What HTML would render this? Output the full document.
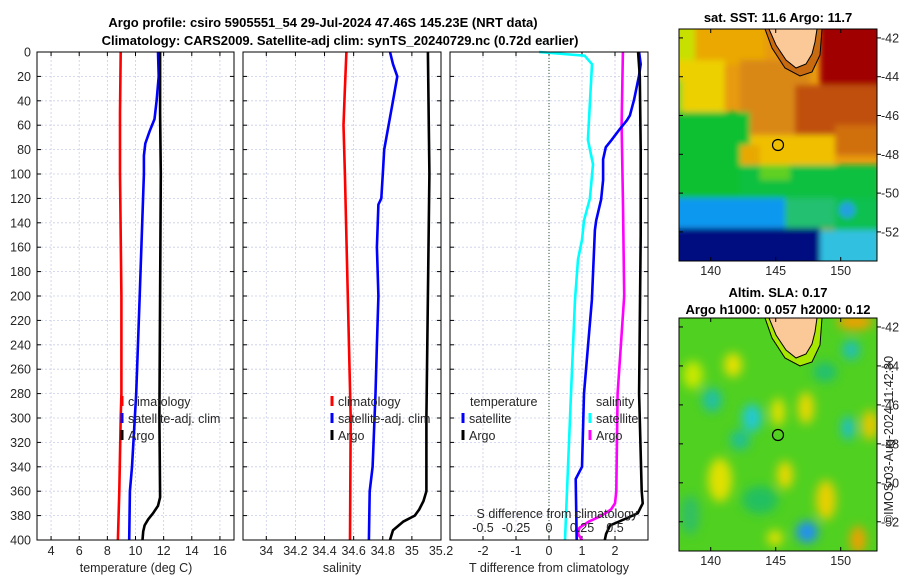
<!DOCTYPE html>
<html><head><meta charset="utf-8"><style>
body{margin:0;background:#fff;}
svg{display:block;font-family:"Liberation Sans","DejaVu Sans",sans-serif;}
.t{font-size:12.5px;fill:#262626;}
.ti{font-size:13px;font-weight:bold;fill:#000;}
</style></head><body>
<svg id="c" width="900" height="580" viewBox="0 0 900 580" xmlns="http://www.w3.org/2000/svg">
<defs>
<filter id="bl" filterUnits="userSpaceOnUse" x="660" y="10" width="240" height="270"><feGaussianBlur stdDeviation="3"/></filter>
<filter id="bl2" filterUnits="userSpaceOnUse" x="660" y="300" width="240" height="270"><feGaussianBlur stdDeviation="5"/></filter>
<clipPath id="m1c"><rect x="679" y="29" width="198" height="232"/></clipPath>
<clipPath id="m2c"><rect x="679" y="318" width="198" height="233"/></clipPath>
</defs>
<text class="ti" x="323" y="27" text-anchor="middle">Argo profile: csiro 5905551_54 29-Jul-2024 47.46S 145.23E (NRT data)</text>
<text class="ti" x="340" y="45" text-anchor="middle">Climatology: CARS2009. Satellite-adj clim: synTS_20240729.nc (0.72d earlier)</text>
<g id="plots"></g>

<!-- SST map -->
<g>
<text class="ti" x="778" y="22" text-anchor="middle">sat. SST: 11.6 Argo: 11.7</text>
<g clip-path="url(#m1c)">
<rect x="679" y="29" width="198" height="232" fill="#e89a10"/>
<g filter="url(#bl)">
<rect x="670" y="20" width="25" height="60" fill="#c8e000"/>
<rect x="695" y="20" width="70" height="45" fill="#eaa800"/>
<rect x="670" y="60" width="55" height="55" fill="#ecd000"/>
<rect x="670" y="80" width="12" height="35" fill="#80d820"/>
<rect x="740" y="60" width="70" height="80" fill="#d98818"/>
<rect x="820" y="20" width="70" height="70" fill="#a00000"/>
<rect x="795" y="85" width="90" height="50" fill="#c05010"/>
<rect x="835" y="125" width="50" height="30" fill="#d07010"/>
<rect x="670" y="112" width="80" height="90" fill="#10c030"/>
<rect x="750" y="135" width="85" height="32" fill="#f0c000"/>
<rect x="740" y="145" width="20" height="20" fill="#e8a800"/>
<rect x="740" y="165" width="140" height="35" fill="#10c040"/>
<rect x="760" y="165" width="30" height="15" fill="#60d020"/>
<rect x="670" y="198" width="120" height="32" fill="#1098f0"/>
<rect x="785" y="198" width="50" height="30" fill="#20c070"/>
<rect x="835" y="198" width="50" height="35" fill="#10c050"/>
<circle cx="847" cy="210" r="8" fill="#20a0e0"/>
<rect x="670" y="228" width="150" height="40" fill="#001080"/>
<rect x="820" y="230" width="60" height="40" fill="#30c0e0"/>
</g>
<polygon points="765,29 772,48 785,68 800,76 812,72 820,55 822,29" fill="#c86a10" stroke="#000" stroke-width="1"/>
<polygon points="769,29 776,45 786,60 796,68 806,64 812,54 815,42 817,29" fill="#fbc898" stroke="#000" stroke-width="1"/>
</g>
<rect x="679" y="29" width="198" height="232" fill="none" stroke="#000" stroke-width="1"/>
<circle cx="778" cy="145" r="5.5" fill="none" stroke="#000" stroke-width="1.2"/>
</g>

<!-- SLA map -->
<g>
<text class="ti" x="778" y="297" text-anchor="middle">Altim. SLA: 0.17</text>
<text class="ti" x="778" y="314" text-anchor="middle">Argo h1000: 0.057 h2000: 0.12</text>
<g clip-path="url(#m2c)">
<rect x="679" y="318" width="198" height="233" fill="#50d020"/>
<g filter="url(#bl2)">
<ellipse cx="733" cy="365" rx="9" ry="12" fill="#e8e000"/>
<ellipse cx="693" cy="375" rx="10" ry="14" fill="#c8e800"/>
<ellipse cx="712" cy="400" rx="10" ry="12" fill="#20c0a0"/>
<ellipse cx="752" cy="418" rx="10" ry="14" fill="#20c8d0"/>
<ellipse cx="740" cy="440" rx="10" ry="10" fill="#20c090"/>
<ellipse cx="778" cy="412" rx="7" ry="14" fill="#e0e000"/>
<ellipse cx="806" cy="408" rx="8" ry="16" fill="#e8d800"/>
<ellipse cx="825" cy="372" rx="12" ry="10" fill="#20c070"/>
<ellipse cx="851" cy="350" rx="9" ry="10" fill="#20c0b0"/>
<ellipse cx="848" cy="428" rx="7" ry="12" fill="#20c0c0"/>
<ellipse cx="870" cy="425" rx="8" ry="15" fill="#e8c800"/>
<ellipse cx="855" cy="322" rx="18" ry="8" fill="#f0a000"/>
<ellipse cx="720" cy="480" rx="12" ry="22" fill="#e0e000"/>
<ellipse cx="785" cy="475" rx="8" ry="14" fill="#e8d800"/>
<ellipse cx="826" cy="500" rx="10" ry="20" fill="#e8d000"/>
<ellipse cx="760" cy="500" rx="18" ry="14" fill="#20c060"/>
<ellipse cx="807" cy="532" rx="11" ry="11" fill="#2090f0"/>
<ellipse cx="858" cy="540" rx="8" ry="14" fill="#f0a000"/>
<ellipse cx="690" cy="515" rx="10" ry="20" fill="#30c060"/>
<ellipse cx="775" cy="538" rx="8" ry="8" fill="#e0e000"/>
</g>
<polygon points="765,318 772,338 785,358 800,366 812,362 820,345 822,318" fill="#a8e800" stroke="#000" stroke-width="1"/>
<polygon points="769,318 776,335 786,350 796,358 806,354 812,344 815,332 817,318" fill="#fbc898" stroke="#000" stroke-width="1"/>
</g>
<rect x="679" y="318" width="198" height="233" fill="none" stroke="#000" stroke-width="1"/>
<circle cx="778" cy="435" r="5.5" fill="none" stroke="#000" stroke-width="1.2"/>
</g>
<g id="maps"></g>
<text class="t" transform="translate(893,440) rotate(-90)" text-anchor="middle">©IMOS 03-Aug-2024 11:42:30</text>
</svg>
<script>
// ---- data ----
const depthTicks=[0,20,40,60,80,100,120,140,160,180,200,220,240,260,280,300,320,340,360,380,400];
const tempTicks=[4,6,8,10,12,14,16];
const salTicks=[34,34.2,34.4,34.6,34.8,35,35.2];
const salTickLabels=["34","34.2","34.4","34.6","34.8","35","35.2"];
const tdiffTicks=[-2,-1,0,1,2];
const sdiffTicks=[-0.5,-0.25,0,0.25,0.5];
const sdiffTickLabels=["-0.5","-0.25","0","0.25","0.5"];

const climTempDepth=[0,50,100,200,280,300,360,400];
const climTemp=[8.95,8.9,8.9,9.0,9.0,8.95,8.85,8.75];
const satTempDepth=[0,20,40,55,65,75,85,100,150,200,280,340,360,400];
const satTemp=[11.6,11.65,11.5,11.35,11.0,10.7,10.6,10.6,10.45,10.3,10.05,9.75,9.6,9.55];
const argoTempDepth=[0,50,100,200,300,365,372,378,383,388,393,400];
const argoTemp=[11.75,11.75,11.8,11.75,11.7,11.75,11.6,11.25,10.9,10.65,10.55,10.5];

const climSalDepth=[0,30,60,100,200,300,400];
const climSal=[34.55,34.54,34.53,34.54,34.56,34.58,34.575];
const satSalDepth=[0,10,20,40,60,80,100,120,125,160,200,240,280,340,360,400];
const satSal=[34.85,34.87,34.9,34.87,34.84,34.81,34.8,34.79,34.77,34.76,34.77,34.76,34.75,34.73,34.71,34.705];
const argoSalDepth=[0,100,200,300,360,368,375,380,385,392,400];
const argoSal=[35.11,35.12,35.11,35.1,35.1,35.08,35.05,35.02,34.94,34.87,34.85];

const tSatDiffDepth=[0,10,19,39,52,56,64,72,78,88,105,121,138,146,203,280,340,350,400];
const tSatDiff=[2.73,2.78,2.73,2.58,2.45,2.36,2.12,1.9,1.72,1.64,1.64,1.58,1.43,1.39,1.3,1.06,1.0,0.81,0.84];
const tArgoDiffDepth=[0,20,80,150,280,360,370,378,382,388,395,400];
const tArgoDiff=[2.7,2.75,2.78,2.78,2.73,2.81,2.84,2.69,2.37,1.85,1.73,1.69];
const sSatDiffDepth=[0,3,10,72,92,120,138,154,170,203,280,400];
const sSatDiff=[-0.076,0.27,0.326,0.295,0.333,0.31,0.265,0.25,0.22,0.197,0.167,0.121];
const sArgoDiffDepth=[0,60,120,200,280,360,370,375,380,385,390,395,400];
const sArgoDiff=[0.56,0.55,0.56,0.57,0.52,0.51,0.5,0.47,0.4,0.3,0.23,0.22,0.25];

const mapLonTicks=[140,145,150];
const mapLatTicks=[-42,-44,-46,-48,-50,-52];

// ---- drawing ----
const NS="http://www.w3.org/2000/svg";
const plots=document.getElementById('plots');
function mk(tag,attrs,parent){const e=document.createElementNS(NS,tag);for(const k in attrs)e.setAttribute(k,attrs[k]);(parent||plots).appendChild(e);return e;}
const Y0=52,Y1=540;
const yS=d=>Y0+(d/400)*(Y1-Y0);
function panel(name,x0,x1,vmin,vmax){
  const xs=v=>x0+(v-vmin)/(vmax-vmin)*(x1-x0);
  const g=mk('g',{});
  
  
  return {g,xs,x0,x1};
}
function grid(p,xt){
  xt.forEach(v=>{const x=p.xs(v);
    const l=mk('line',{x1:x,x2:x,y1:Y0,y2:Y1,stroke:'#c9cde8','stroke-width':0.8,'stroke-dasharray':'2,2'},p.g);
    
    mk('line',{x1:x,x2:x,y1:Y1,y2:Y1-4,stroke:'#000'},p.g);mk('line',{x1:x,x2:x,y1:Y0,y2:Y0+4,stroke:'#000'},p.g);});
  depthTicks.forEach(d=>{const y=yS(d);
    const l=mk('line',{x1:p.x0,x2:p.x1,y1:y,y2:y,stroke:'#c9cde8','stroke-width':0.8,'stroke-dasharray':'2,2'},p.g);
    
    mk('line',{x1:p.x0,x2:p.x0+4,y1:y,y2:y,stroke:'#000'},p.g);mk('line',{x1:p.x1,x2:p.x1-4,y1:y,y2:y,stroke:'#000'},p.g);});
}
function frame(p){const r=mk('rect',{x:p.x0,y:Y0,width:p.x1-p.x0,height:Y1-Y0,fill:'none',stroke:'#000','stroke-width':1},p.g);
  }
function series(p,depths,vals,color,name,scale){
  const pts=depths.map((d,i)=>p.xs(vals[i]*(scale||1)).toFixed(1)+','+yS(d).toFixed(1)).join(' ');
  const l=mk('polyline',{points:pts,fill:'none',stroke:color,'stroke-width':2.6,'stroke-linejoin':'round'},p.g);
  
  
}
function xlabels(p,ticks,labels,y){ticks.forEach((v,i)=>{const t=mk('text',{x:p.xs(v),y:y,'text-anchor':'middle',class:'t'},p.g);t.textContent=labels?labels[i]:String(v);
  });}
function txt(p,x,y,s,name,anchor){const t=mk('text',{x:x,y:y,class:'t','text-anchor':anchor||'start'},p.g);t.textContent=s;
  return t;}
function legend(p,x,y,color,label,name){mk('line',{x1:x,x2:x,y1:y-10,y2:y,stroke:color,'stroke-width':3},p.g);
  txt(p,x+6,y,label,name);}

// Panel 1: temperature
const p1=panel('temperature-panel',37,234,3,17);
grid(p1,tempTicks);
series(p1,climTempDepth,climTemp,'#ff0000','climatology-temp-line');
series(p1,satTempDepth,satTemp,'#0000ff','satellite-temp-line');
series(p1,argoTempDepth,argoTemp,'#000000','argo-temp-line');
frame(p1);
xlabels(p1,tempTicks,null,555);
depthTicks.forEach(d=>{txt(p1,31,yS(d)+4.5,String(d),'y-tick-label','end');});
txt(p1,136,572,'temperature (deg C)','temperature-axis-title','middle');
legend(p1,122,406,'#ff0000','climatology','legend-climatology');
legend(p1,122,423,'#0000ff','satellite-adj. clim','legend-satellite');
legend(p1,122,440,'#000000','Argo','legend-argo');

// Panel 2: salinity
const p2=panel('salinity-panel',243,441,33.84,35.2);
grid(p2,salTicks);
series(p2,climSalDepth,climSal,'#ff0000','climatology-salinity-line');
series(p2,satSalDepth,satSal,'#0000ff','satellite-salinity-line');
series(p2,argoSalDepth,argoSal,'#000000','argo-salinity-line');
frame(p2);
xlabels(p2,salTicks,salTickLabels,555);
txt(p2,342,572,'salinity','salinity-axis-title','middle');
legend(p2,332,406,'#ff0000','climatology','legend-climatology');
legend(p2,332,423,'#0000ff','satellite-adj. clim','legend-satellite');
legend(p2,332,440,'#000000','Argo','legend-argo');

// Panel 3: differences
const p3=panel('difference-panel',450,648,-3,3);
grid(p3,tdiffTicks);
const zx=p3.xs(0);
mk('line',{x1:zx,x2:zx,y1:Y0,y2:Y1,stroke:'#2a5a2a','stroke-width':1,'stroke-dasharray':'1,2'},p3.g);
series(p3,sSatDiffDepth,sSatDiff,'#00ffff','salinity-satellite-diff-line',4);
series(p3,sArgoDiffDepth,sArgoDiff,'#ff00ff','salinity-argo-diff-line',4);
series(p3,tSatDiffDepth,tSatDiff,'#0000ff','temperature-satellite-diff-line');
series(p3,tArgoDiffDepth,tArgoDiff,'#000000','temperature-argo-diff-line');
frame(p3);
xlabels(p3,tdiffTicks,null,555);
sdiffTicks.forEach((v,i)=>{txt(p3,p3.xs(v*4),532,sdiffTickLabels[i],'s-diff-tick-label','middle');});
txt(p3,557,518,'S difference from climatology','s-diff-axis-title','middle');
txt(p3,549,572,'T difference from climatology','t-diff-axis-title','middle');
txt(p3,470,406,'temperature','legend-temperature-header');
legend(p3,463,423,'#0000ff','satellite','legend-temp-satellite');
legend(p3,463,440,'#000000','Argo','legend-temp-argo');
txt(p3,596,406,'salinity','legend-salinity-header');
legend(p3,590,423,'#00ffff','satellite','legend-sal-satellite');
legend(p3,590,440,'#ff00ff','Argo','legend-sal-argo');

// map ticks
const maps=document.getElementById('maps');
const lonX=v=>679+(v-137.56)*13;
[[29,261,-41.54,-53.5,275],[318,551,-41.54,-53.5,565]].forEach((m,mi)=>{
  const latY=v=>m[0]+(m[2]-v)/(m[2]-m[3])*(m[1]-m[0]);
  mapLonTicks.forEach(v=>{const x=lonX(v);
    mk('line',{x1:x,x2:x,y1:m[1],y2:m[1]-4,stroke:'#000'},maps);mk('line',{x1:x,x2:x,y1:m[0],y2:m[0]+4,stroke:'#000'},maps);
    const t=mk('text',{x:x,y:m[4],'text-anchor':'middle',class:'t'},maps);t.textContent=String(v);
    });
  mapLatTicks.forEach(v=>{const y=latY(v);
    mk('line',{x1:877,x2:881,y1:y,y2:y,stroke:'#000'},maps);mk('line',{x1:679,x2:683,y1:y,y2:y,stroke:'#000'},maps);
    const t=mk('text',{x:881,y:y+4.5,class:'t'},maps);t.textContent=String(v);
    });
});
</script>
</body></html>
